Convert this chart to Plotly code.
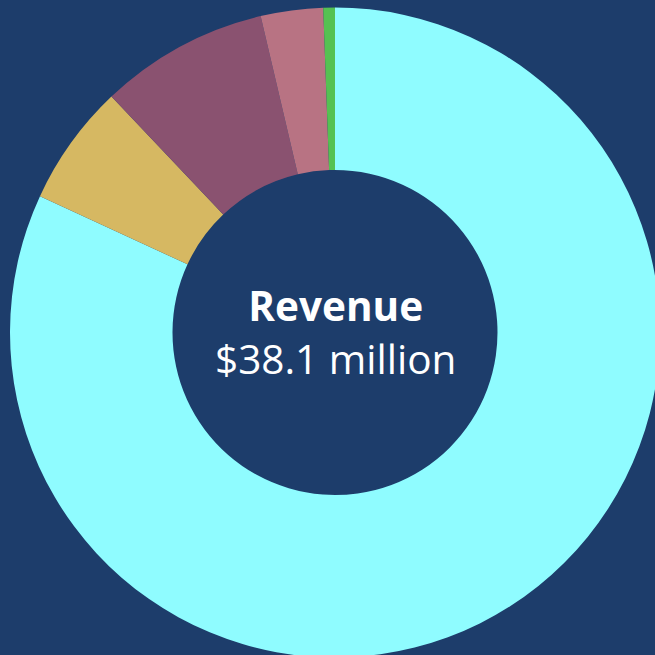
import plotly.graph_objects as go

labels = ["Segment A", "Segment B", "Segment C", "Segment D", "Segment E"]
values = [31.2, 2.3, 3.2, 1.18, 0.22]
colors = ["#8ffcff", "#d6b862", "#8a5270", "#b87383", "#55c152"]
center_title = "Revenue"
center_value = "$38.1 million"

BG = "#1d3d6b"
W = H = 680  # figure slightly larger than window so the ring is clipped at right/bottom

fig = go.Figure(go.Pie(
    labels=labels,
    values=values,
    hole=0.5,
    sort=False,
    direction="clockwise",
    rotation=0,
    marker=dict(colors=colors, line=dict(width=0)),
    textinfo="none",
    hoverinfo="label+value",
    showlegend=False,
    domain=dict(x=[10/W, 660/W], y=[(H-657.5)/H, (H-7.5)/H]),
))

fig.add_annotation(
    x=335/W, y=1 - 332/H, xref="paper", yref="paper",
    text=f"<b>{center_title}</b><br>{center_value}",
    showarrow=False, yanchor="middle", valign="middle", align="center",
    font=dict(family="Open Sans, Lato, sans-serif", size=40.5, color="white"),
)

fig.update_layout(
    width=W, height=H,
    margin=dict(l=0, r=0, t=0, b=0),
    paper_bgcolor=BG, plot_bgcolor=BG,
)

fig.write_html(
    "out.html",
    config={"displayModeBar": False},
    post_script="document.body.style.margin='0';document.body.style.overflow='hidden';document.documentElement.style.overflow='hidden';",
)
